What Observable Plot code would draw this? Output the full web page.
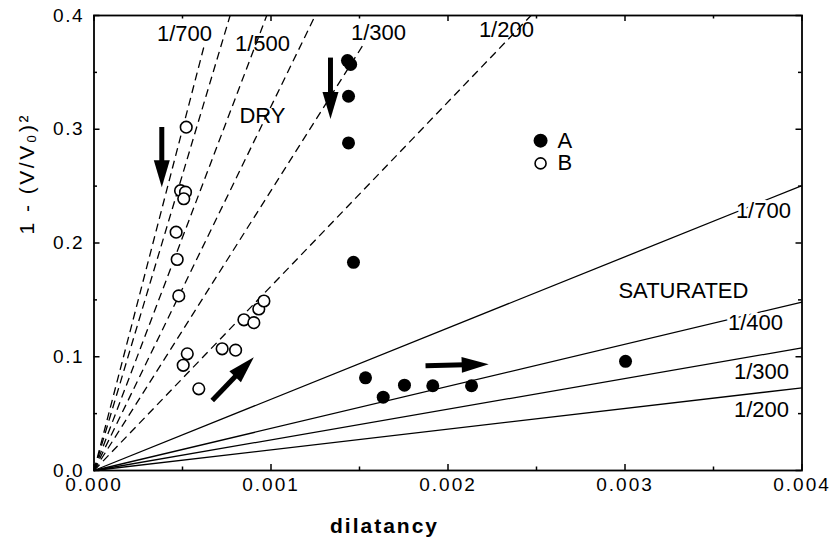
<!DOCTYPE html>
<html><head><meta charset="utf-8">
<script src="https://cdn.jsdelivr.net/npm/d3@7"></script>
<script src="https://cdn.jsdelivr.net/npm/@observablehq/plot@0.6"></script>
<style>
body{margin:0;background:#fff;}
#chart svg text{font-family:"Liberation Sans",Arial,Helvetica,sans-serif;}
#chart g[aria-label^="x-axis"] text{letter-spacing:2px;}
#chart g[aria-label^="y-axis"] text{letter-spacing:1.5px;}
</style></head><body><div id="chart"></div>
<script>
// Series A (filled circles)
const aX = [0.001432, 0.00145, 0.001438, 0.001438, 0.001466, 0.001534, 0.001634, 0.001754, 0.001914, 0.002133, 0.003003];
const aY = [0.3604, 0.3570, 0.329, 0.288, 0.183, 0.0815, 0.0645, 0.0750, 0.0745, 0.0745, 0.0960];
// Series B (open circles)
const bX = [0.000521, 0.000489, 0.000517, 0.000507, 0.000464, 0.000470, 0.000479, 0.000527, 0.000504, 0.000592, 0.000724, 0.000800, 0.000847, 0.000903, 0.000931, 0.000960];
const bY = [0.3018, 0.2460, 0.2447, 0.2389, 0.2095, 0.1855, 0.1535, 0.1026, 0.0925, 0.0718, 0.1070, 0.1058, 0.1325, 0.1300, 0.1420, 0.1490];
// Dry (dashed) reference lines from origin to end points
const dryEndX = [0.000620, 0.000769, 0.000976, 0.001250, 0.001524, 0.002469];
const dryEndY = [0.372, 0.400, 0.400, 0.400, 0.375, 0.400];
// Saturated (solid) reference lines from origin to the right edge
const satEndX = [0.004, 0.004, 0.004, 0.004];
const satEndY = [0.2505, 0.148, 0.1078, 0.0727];
// Text labels
const labelText = ["1/700", "1/500", "1/300", "1/200", "DRY", "SATURATED", "1/300", "1/200"];
const labelX = [0.000511, 0.000952, 0.001607, 0.00233, 0.000952, 0.00333, 0.003771, 0.003771];
const labelY = [0.384, 0.375, 0.385, 0.387, 0.312, 0.158, 0.087, 0.0536];
const haloText = ["1/700", "1/400"];
const haloX = [0.003782, 0.003737];
const haloY = [0.2286, 0.130];
// Legend
const legendName = ["A", "B"];
const legendX = [0.002523, 0.002523];
const legendY = [0.290, 0.270];
// Arrows
const arrowX1 = [0.000383, 0.001336, 0.000668, 0.001873];
const arrowY1 = [0.302, 0.363, 0.0615, 0.0920];
const arrowX2 = [0.000383, 0.001336, 0.000903, 0.00223];
const arrowY2 = [0.249, 0.309, 0.0996, 0.0935];
// Ticks
const xTicks = [0, 0.001, 0.002, 0.003, 0.004];
const yTicks = [0, 0.1, 0.2, 0.3, 0.4];
const xMinor = [0.0005, 0.0015, 0.0025, 0.0035];
const yMinor = [0.05, 0.15, 0.25, 0.35];

const W = 835, H = 539, mL = 93.5, mR = 33.5, mT = 15, mB = 69;
const innerW = W - mL - mR, innerH = H - mT - mB;
const kx = innerW / 0.004, ky = innerH / 0.4;

const A = aX.map((x, i) => ({x, y: aY[i]}));
const B = bX.map((x, i) => ({x, y: bY[i]}));
const dry = dryEndX.map((x, i) => ({x2: x, y2: dryEndY[i]}));
const sat = satEndX.map((x, i) => ({x2: x, y2: satEndY[i]}));
const labels = labelText.map((t, i) => ({t, x: labelX[i], y: labelY[i]}));
const halos = haloText.map((t, i) => ({t, x: haloX[i], y: haloY[i]}));
const legend = legendName.map((t, i) => ({t, x: legendX[i], y: legendY[i]}));
const arrows = arrowX1.map((x1, i) => {
  const x2 = arrowX2[i], y1 = arrowY1[i], y2 = arrowY2[i];
  const dxp = (x2 - x1) * kx, dyp = -(y2 - y1) * ky;
  const L = Math.hypot(dxp, dyp), ux = dxp / L, uy = dyp / L;
  return {x1, y1, x2, y2, sx2: x2 - ux * 14 / kx, sy2: y2 + uy * 14 / ky,
          angle: Math.atan2(dxp, -dyp) * 180 / Math.PI};
});
const headSymbol = {draw(ctx) { ctx.moveTo(0, 0); ctx.lineTo(-8, 27); ctx.lineTo(8, 27); ctx.closePath(); }};

const zero = () => 0;
const chart = Plot.plot({
  width: W, height: H,
  marginLeft: mL, marginRight: mR, marginTop: mT, marginBottom: mB,
  style: {fontSize: "19px", fontFamily: "Liberation Sans, Arial, sans-serif", background: "white", color: "black"},
  x: {domain: [0, 0.004], ticks: xTicks, tickFormat: d3.format(".3f"), tickSize: 0, tickPadding: 7, label: null},
  y: {domain: [0, 0.4], ticks: yTicks, tickFormat: d3.format(".1f"), tickSize: 0, tickPadding: 10, label: null},
  marks: [
    Plot.link(dry, {x1: zero, y1: zero, x2: "x2", y2: "y2", stroke: "black", strokeWidth: 1.3, strokeDasharray: "8,5"}),
    Plot.link(sat, {x1: zero, y1: zero, x2: "x2", y2: "y2", stroke: "black", strokeWidth: 1.3}),
    Plot.tickX(xTicks, {insetTop: innerH - 6, strokeWidth: 1.5}),
    Plot.tickX(xMinor, {insetTop: innerH - 3.5, strokeWidth: 1.5}),
    Plot.tickX(xTicks, {insetBottom: innerH - 6, strokeWidth: 1.5}),
    Plot.tickX(xMinor, {insetBottom: innerH - 3.5, strokeWidth: 1.5}),
    Plot.tickY(yTicks, {insetRight: innerW - 6, strokeWidth: 1.5}),
    Plot.tickY(yMinor, {insetRight: innerW - 3.5, strokeWidth: 1.5}),
    Plot.tickY(yTicks, {insetLeft: innerW - 6, strokeWidth: 1.5}),
    Plot.tickY(yMinor, {insetLeft: innerW - 3.5, strokeWidth: 1.5}),
    Plot.frame({stroke: "black", strokeWidth: 1.8}),
    Plot.dot(B, {x: "x", y: "y", r: 5.8, fill: "white", stroke: "black", strokeWidth: 1.6}),
    Plot.dot(A, {x: "x", y: "y", r: 6.5, fill: "black", stroke: "none"}),
    Plot.text(labels, {x: "x", y: "y", text: "t", fontSize: 22, fill: "black"}),
    Plot.text(halos, {x: "x", y: "y", text: "t", fontSize: 22, fill: "black", stroke: "white", strokeWidth: 6}),
    Plot.dot(legend.slice(0, 1), {x: "x", y: "y", r: 7, fill: "black", stroke: "none"}),
    Plot.dot(legend.slice(1), {x: "x", y: "y", r: 5.5, fill: "white", stroke: "black", strokeWidth: 1.6}),
    Plot.text(legend, {x: "x", y: "y", text: "t", dx: 17, textAnchor: "start", fontSize: 22, fill: "black"}),
    Plot.link(arrows, {x1: "x1", y1: "y1", x2: "sx2", y2: "sy2", stroke: "black", strokeWidth: 5}),
    Plot.dot(arrows, {x: "x2", y: "y2", r: 1, symbol: headSymbol, rotate: "angle", fill: "black", stroke: "none"}),
    Plot.text(["dilatancy"], {frameAnchor: "bottom", dx: -63.5, dy: 56, fontSize: 21, fontWeight: "bold", fill: "black", lineAnchor: "middle"}),
    Plot.text(["1 - (V/V₀)²"], {frameAnchor: "left", dx: -66.5, dy: -8.5, rotate: -90, fontSize: 21, fill: "black", lineAnchor: "middle"})
  ]
});
document.getElementById("chart").appendChild(chart);
chart.querySelectorAll("text").forEach(t => {
  if (t.textContent === "dilatancy") t.style.letterSpacing = "2px";
  if (t.textContent === "1 - (V/V₀)²") t.style.letterSpacing = "2.5px";
});
</script></body></html>
